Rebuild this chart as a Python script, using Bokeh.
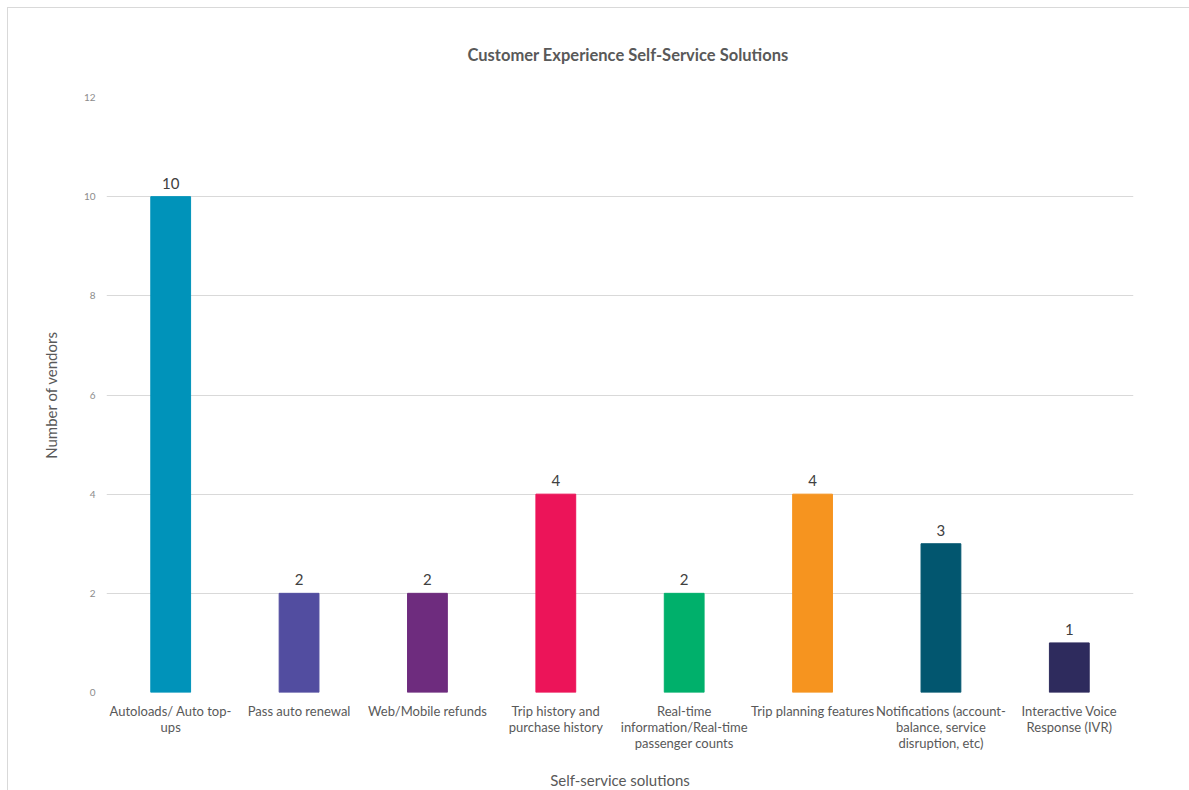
from bokeh.plotting import figure
from bokeh.models import ColumnDataSource, LabelSet, FactorRange, FixedTicker
from bokeh.core.properties import value
from bokeh.embed import file_html
from bokeh.resources import INLINE

# Self-service solutions and how many vendors offer each
solutions = [
    "Autoloads/ Auto top-ups",
    "Pass auto renewal",
    "Web/Mobile refunds",
    "Trip history and purchase history",
    "Real-time information/Real-time passenger counts",
    "Trip planning features",
    "Notifications (account-balance, service disruption, etc)",
    "Interactive Voice Response (IVR)",
]
tick_labels = [
    "Autoloads/ Auto top-\nups",
    "Pass auto renewal",
    "Web/Mobile refunds",
    "Trip history and\npurchase history",
    "Real-time\ninformation/Real-time\npassenger counts",
    "Trip planning features",
    "Notifications (account-\nbalance, service\ndisruption, etc)",
    "Interactive Voice\nResponse (IVR)",
]
vendors = [10, 2, 2, 4, 2, 4, 3, 1]
bar_colors = ["#0093BA", "#524DA0", "#6E2C7E", "#EC1459",
              "#00B06B", "#F6941F", "#02566F", "#2E2B5D"]

FONT = "Lato"

source = ColumnDataSource(dict(
    x=tick_labels,
    name=solutions,
    y=vendors,
    color=bar_colors,
    label=[str(v) for v in vendors],
))

p = figure(
    width=1182, height=783,
    x_range=FactorRange(*tick_labels, range_padding=0),
    y_range=(0, 12),
    output_backend="svg",
    toolbar_location=None,
    min_border_left=98, min_border_right=57,
    min_border_top=89, min_border_bottom=95,
    title="Customer Experience Self-Service Solutions",
)
p.margin = (7, 0, 0, 7)
p.styles = {"border-left": "1px solid #d9d9d9", "border-top": "1px solid #d9d9d9"}

p.title.align = "left"
p.title.text_font = FONT
p.title.text_font_size = "16.5px"
p.title.text_font_style = "bold"
p.title.text_color = "#595959"
p.title.standoff = 66
p.title.offset = 361

p.vbar(x="x", top="y", width=0.31, color="color", source=source)

labels = LabelSet(x="x", y="y", text="label", source=source,
                  text_align="center", text_baseline="bottom",
                  y_offset=8, text_font_size="15px", text_color="#404040",
                  text_font=value(FONT))
p.add_layout(labels)

p.outline_line_color = None
p.background_fill_color = "white"
p.border_fill_color = "white"

p.xgrid.grid_line_color = None
p.ygrid.grid_line_color = "#d9d9d9"
p.ygrid.grid_line_width = 1

p.yaxis.ticker = FixedTicker(ticks=[0, 2, 4, 6, 8, 10, 12])
p.yaxis.axis_line_color = None
p.yaxis.major_tick_line_color = None
p.yaxis.minor_tick_line_color = None
p.yaxis.major_label_text_font = FONT
p.yaxis.major_label_text_font_size = "10px"
p.yaxis.major_label_text_color = "#8c8c8c"
p.yaxis.major_label_standoff = 5
p.yaxis.axis_label = "Number of vendors"
p.yaxis.axis_label_text_font = FONT
p.yaxis.axis_label_text_font_size = "15px"
p.yaxis.axis_label_text_font_style = "normal"
p.yaxis.axis_label_text_color = "#595959"
p.yaxis.axis_label_standoff = 21

p.xaxis.axis_line_color = None
p.xaxis.major_tick_line_color = None
p.xaxis.minor_tick_line_color = None
p.xaxis.major_label_text_font = FONT
p.xaxis.major_label_text_font_size = "13px"
p.xaxis.major_label_text_line_height = 1.0
p.xaxis.major_label_text_color = "#595959"
p.xaxis.major_label_standoff = 4
p.xaxis.axis_label = "Self-service solutions"
p.xaxis.axis_label_text_font = FONT
p.xaxis.axis_label_text_font_size = "15px"
p.xaxis.axis_label_text_font_style = "normal"
p.xaxis.axis_label_text_color = "#595959"
p.xaxis.axis_label_standoff = 17

open("out.html", "w").write(file_html(p, INLINE))
